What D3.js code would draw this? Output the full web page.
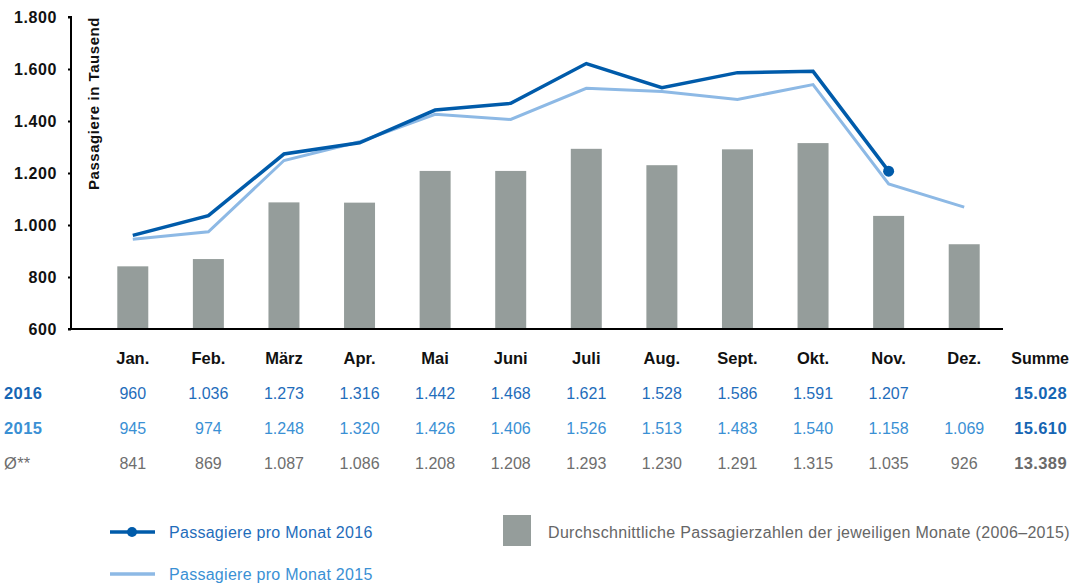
<!DOCTYPE html>
<html><head><meta charset="utf-8">
<script src="https://cdn.jsdelivr.net/npm/d3@7"></script>
<style>
body{margin:0;background:#fff;}
svg{display:block;font-family:"Liberation Sans",Arial,Helvetica,sans-serif;}
</style></head>
<body><svg id="c" width="1071" height="583"></svg>
<script>
const months = ["Jan.","Feb.","März","Apr.","Mai","Juni","Juli","Aug.","Sept.","Okt.","Nov.","Dez."];
const values2016 = [960,1036,1273,1316,1442,1468,1621,1528,1586,1591,1207,null];
const values2015 = [945,974,1248,1320,1426,1406,1526,1513,1483,1540,1158,1069];
const valuesAvg = [841,869,1087,1086,1208,1208,1293,1230,1291,1315,1035,926];
const sums = {"2016":"15.028","2015":"15.610","avg":"13.389"};
const yTicks = [600,800,1000,1200,1400,1600,1800];

const C16="#005BAA", C15="#8DB9E5", CBAR="#959D9B";
const T16="#1F6DBB", T16L="#1665B3", T15="#3A90D4", TAVG="#6E6E6E";

const svg=d3.select("#c");
const fmt = v => v==null ? "" : d3.format(",")(v).replace(/,/g,".");

const x=d3.scaleBand().domain(months).range([95,1002]).paddingInner(0.59).paddingOuter(0.295);
const y=d3.scaleLinear().domain([600,1800]).range([329,17]);

// bars
svg.append("g").selectAll("rect").data(months).join("rect")
  .attr("x",d=>x(d)).attr("width",x.bandwidth())
  .attr("y",(d,i)=>y(valuesAvg[i])).attr("height",(d,i)=>y(600)-y(valuesAvg[i]))
  .attr("fill",CBAR);

// y axis
const ya=svg.append("g").attr("transform","translate(71,0)")
  .call(d3.axisLeft(y).tickValues(yTicks).tickSize(3).tickPadding(11).tickFormat(fmt));
ya.select(".domain").attr("stroke","#000").attr("stroke-width",2).attr("d","M-3,17H0V330");
ya.selectAll(".tick line").attr("stroke","#000").attr("stroke-width",2);
ya.selectAll(".tick text").attr("font-size",16).attr("letter-spacing",0.6).attr("font-weight","bold").attr("fill","#111");
// x baseline
svg.append("line").attr("x1",68).attr("x2",1003).attr("y1",329).attr("y2",329).attr("stroke","#000").attr("stroke-width",2);

// y title
svg.append("text").attr("transform","translate(99,17) rotate(-90)")
  .attr("text-anchor","end").attr("font-size",15).attr("letter-spacing",0.55).attr("font-weight","bold").attr("fill","#111")
  .text("Passagiere in Tausend");

const cx=d=>x(d)+x.bandwidth()/2;
const line=d3.line().defined(d=>d.v!=null).x(d=>cx(d.m)).y(d=>y(d.v));
svg.append("path").datum(months.map((m,i)=>({m,v:values2015[i]})))
  .attr("d",line).attr("fill","none").attr("stroke",C15).attr("stroke-width",3);
svg.append("path").datum(months.map((m,i)=>({m,v:values2016[i]})))
  .attr("d",line).attr("fill","none").attr("stroke",C16).attr("stroke-width",3.5);
svg.append("circle").attr("cx",cx(months[10])).attr("cy",y(values2016[10])).attr("r",5.5).attr("fill",C16);

// table
const tg=svg.append("g").attr("font-size",16);
tg.selectAll(".mh").data(months).join("text").attr("x",d=>cx(d)).attr("y",364)
  .attr("text-anchor","middle").attr("font-weight","bold").attr("fill","#111").attr("font-size",16.5).text(d=>d);
tg.append("text").attr("x",1069).attr("y",364).attr("text-anchor","end").attr("font-weight","bold")
  .attr("font-size",16).attr("fill","#111").text("Summe");
const rows=[
  {lab:"2016",vals:values2016,lc:T16L,vc:T16,sum:sums["2016"],sc:T16L,y:399},
  {lab:"2015",vals:values2015,lc:T15,vc:T15,sum:sums["2015"],sc:T16L,y:434},
  {lab:"Ø**",vals:valuesAvg,lc:TAVG,vc:TAVG,sum:sums.avg,sc:"#6a6a6a",y:469}
];
rows.forEach(r=>{
  tg.append("text").attr("x",4).attr("y",r.y).attr("font-size",16.5)
    .attr("letter-spacing",r.lab==="Ø**"?0.3:0.4)
    .attr("font-weight",r.lab==="Ø**"?"normal":"bold").attr("fill",r.lc).text(r.lab);
  tg.selectAll(null).data(months).join("text").attr("x",d=>cx(d)).attr("y",r.y)
    .attr("text-anchor","middle").attr("fill",r.vc).text((d,i)=>fmt(r.vals[i]));
  tg.append("text").attr("x",1067).attr("y",r.y).attr("text-anchor","end").attr("font-weight","bold")
    .attr("font-size",16.5).attr("letter-spacing",0.4).attr("fill",r.sc).text(r.sum);
});

// legend
const lg=svg.append("g").attr("font-size",16).attr("letter-spacing",0.28);
lg.append("line").attr("x1",110).attr("x2",155).attr("y1",532).attr("y2",532).attr("stroke",C16).attr("stroke-width",3.5);
lg.append("circle").attr("cx",132).attr("cy",532).attr("r",5).attr("fill",C16);
lg.append("text").attr("x",169).attr("y",538).attr("fill",T16).text("Passagiere pro Monat 2016");
lg.append("line").attr("x1",110).attr("x2",155).attr("y1",574).attr("y2",574).attr("stroke",C15).attr("stroke-width",3.5);
lg.append("text").attr("x",169).attr("y",580).attr("fill",T15).text("Passagiere pro Monat 2015");
lg.append("rect").attr("x",503).attr("y",515).attr("width",28).attr("height",31).attr("fill",CBAR);
lg.append("text").attr("x",548).attr("y",538).attr("fill","#666").attr("letter-spacing",0.33)
  .text("Durchschnittliche Passagierzahlen der jeweiligen Monate (2006\u20132015)");
</script></body></html>
